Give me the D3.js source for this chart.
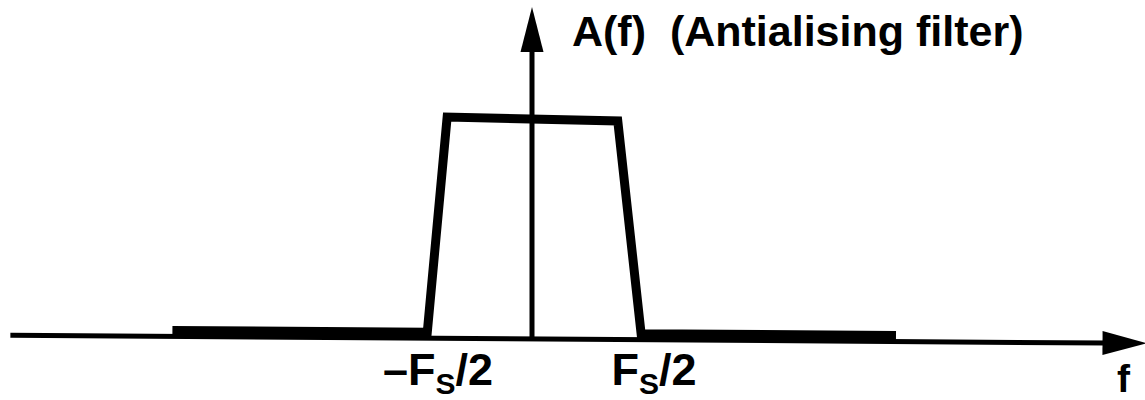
<!DOCTYPE html>
<html>
<head>
<meta charset="utf-8">
<script src="https://cdn.jsdelivr.net/npm/d3@7"></script>
<style>
  html, body { margin: 0; padding: 0; background: #fff; }
  text { font-family: "Liberation Sans", Arial, sans-serif; font-weight: bold; fill: #000; }
</style>
</head>
<body>
<svg id="chartSvg" width="1145" height="400"></svg>
<script>
// Filter response A(f): frequency in units of Fs/2, amplitude normalised to 1
const freqPoints = [-3.33, -0.97, -0.80, 0.78, 1.01, 3.37];
const ampPoints = [0, 0, 1, 0.987, 0, 0];

// Ticks on the frequency axis
const tickValues = [-1, 1];
const tickMain = ["\u2013F", "F"];
const tickSub = ["S", "S"];
const tickTail = ["/2", "/2"];

// Axis extent (in the same f units)
const axisExtent = [-4.83, 5.69];

const titleText = "A(f)  (Antialising filter)";
const axisLabel = "f";

const svg = d3.select("#chartSvg");

const x = d3.scaleLinear()
    .domain([-1, 1])
    .range([424, 640]);

const y = d3.scaleLinear()
    .domain([0, 1])
    .range([333, 117.6]);

const axisY = y(0) + 6;   // thin axis sits just under the thick stopband line
const originX = x(0);

// scanned figure: the horizontal parts slope slightly downwards to the right
const tilted = svg.append("g")
    .attr("transform", `rotate(0.4, ${originX}, ${axisY})`);

// horizontal axis + arrow
const xEnd = x(axisExtent[1]);
tilted.append("line")
    .attr("x1", x(axisExtent[0]))
    .attr("x2", xEnd - 40)
    .attr("y1", axisY)
    .attr("y2", axisY)
    .attr("stroke", "#000")
    .attr("stroke-width", 5);

tilted.append("path")
    .attr("d", `M${xEnd},${axisY} L${xEnd - 44},${axisY - 12} L${xEnd - 44},${axisY + 12} Z`)
    .attr("fill", "#000");

// filter response
const line = d3.line()
    .x(d => x(d[0]))
    .y(d => y(d[1]));

tilted.append("path")
    .datum(d3.zip(freqPoints, ampPoints))
    .attr("d", line)
    .attr("fill", "none")
    .attr("stroke", "#000")
    .attr("stroke-width", 9)
    .attr("stroke-linejoin", "miter")
    .attr("stroke-linecap", "butt");

// vertical axis + arrow (drawn straight)
const yTop = 7;
svg.append("line")
    .attr("x1", originX)
    .attr("x2", originX)
    .attr("y1", axisY + 1)
    .attr("y2", yTop + 40)
    .attr("stroke", "#000")
    .attr("stroke-width", 5);

svg.append("path")
    .attr("d", `M${originX},${yTop} L${originX - 11.5},${yTop + 45} L${originX + 11.5},${yTop + 45} Z`)
    .attr("fill", "#000");

// title next to the arrow
svg.append("text")
    .attr("x", 572)
    .attr("y", 46)
    .style("font-size", "43px")
    .style("white-space", "pre")
    .text(titleText);

// tick labels -Fs/2 and Fs/2
const ticks = svg.selectAll("text.tick")
    .data(tickValues)
    .join("text")
    .attr("class", "tick")
    .attr("x", d => x(d) + 14)
    .attr("y", 385)
    .attr("text-anchor", "middle")
    .style("font-size", "45px");

ticks.append("tspan").text((d, i) => tickMain[i]);
ticks.append("tspan")
    .attr("dy", 9)
    .style("font-size", "30px")
    .text((d, i) => tickSub[i]);
ticks.append("tspan")
    .attr("dy", -9)
    .text((d, i) => tickTail[i]);

// axis label f
svg.append("text")
    .attr("x", 1117)
    .attr("y", 392)
    .style("font-size", "39px")
    .text(axisLabel);
</script>
</body>
</html>
